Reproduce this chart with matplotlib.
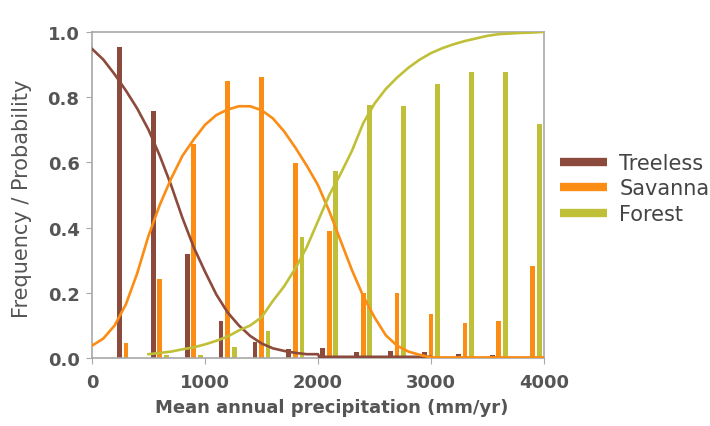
import matplotlib
matplotlib.use("Agg")
import matplotlib.pyplot as plt
from matplotlib.lines import Line2D

# histogram bins (mm/yr) and frequencies
bin_centers = [300, 600, 900, 1200, 1500, 1800, 2100, 2400, 2700, 3000, 3300, 3600, 3900]
treeless_freq = [0.953, 0.757, 0.319, 0.114, 0.05, 0.028, 0.031, 0.018, 0.022, 0.02, 0.012, 0.008, 0.0]
savanna_freq = [0.046, 0.242, 0.656, 0.848, 0.863, 0.598, 0.39, 0.2, 0.2, 0.135, 0.107, 0.114, 0.283]
forest_freq = [0.0, 0.008, 0.01, 0.034, 0.084, 0.37, 0.575, 0.776, 0.774, 0.84, 0.878, 0.878, 0.718]

# fitted probability curves
treeless_x = [0, 100, 200, 300, 400, 500, 600, 700, 800, 900, 1000, 1100, 1200, 1300,
              1400, 1500, 1600, 1700, 1800, 1900, 2000, 2010, 3000, 3010, 4000]
treeless_p = [0.948, 0.915, 0.87, 0.82, 0.765, 0.70, 0.62, 0.53, 0.43, 0.34, 0.265, 0.195,
              0.14, 0.10, 0.068, 0.045, 0.03, 0.022, 0.016, 0.012, 0.012, 0.004, 0.004, 0.0, 0.0]

savanna_x = [0, 100, 200, 300, 400, 500, 600, 700, 800, 900, 1000, 1100, 1200, 1300, 1400,
             1500, 1600, 1700, 1800, 1900, 2000, 2100, 2200, 2300, 2400, 2500, 2600, 2700,
             2800, 2900, 3000, 4000]
savanna_p = [0.038, 0.06, 0.10, 0.165, 0.26, 0.375, 0.47, 0.55, 0.62, 0.67, 0.715, 0.745,
             0.762, 0.772, 0.772, 0.76, 0.735, 0.695, 0.645, 0.59, 0.53, 0.45, 0.36, 0.27,
             0.19, 0.125, 0.07, 0.038, 0.02, 0.01, 0.002, 0.002]

forest_x = [500, 600, 700, 800, 900, 1000, 1100, 1200, 1300, 1400, 1500, 1600, 1700, 1800,
            1900, 2000, 2100, 2200, 2300, 2400, 2500, 2600, 2700, 2800, 2900, 3000, 3100,
            3200, 3300, 3400, 3500, 3600, 3700, 3800, 3900, 4000]
forest_p = [0.012, 0.016, 0.02, 0.027, 0.033, 0.042, 0.053, 0.066, 0.085, 0.10, 0.125, 0.175,
            0.22, 0.275, 0.34, 0.42, 0.50, 0.565, 0.635, 0.72, 0.78, 0.825, 0.86, 0.89, 0.915,
            0.935, 0.95, 0.962, 0.972, 0.98, 0.988, 0.993, 0.995, 0.997, 0.998, 1.0]

C_TREELESS = "#8c4a3c"
C_SAVANNA = "#fb8c14"
C_FOREST = "#c0c038"
GREY = "#555555"

fig = plt.figure(figsize=(7.1, 4.27), dpi=100)
ax = fig.add_axes([0.1296, 0.159, 0.6366, 0.764])

bar_w = 42
offset = 58
ax.bar([c - offset for c in bin_centers], treeless_freq, width=bar_w, color=C_TREELESS, zorder=2)
ax.bar(bin_centers, savanna_freq, width=bar_w, color=C_SAVANNA, zorder=2)
ax.bar([c + offset for c in bin_centers], forest_freq, width=bar_w, color=C_FOREST, zorder=2)

ax.plot(treeless_x, treeless_p, color=C_TREELESS, lw=1.9, zorder=3)
ax.plot(savanna_x, savanna_p, color=C_SAVANNA, lw=1.9, zorder=3)
ax.plot(forest_x, forest_p, color=C_FOREST, lw=1.9, zorder=3)

ax.set_xlim(0, 4000)
ax.set_ylim(0, 1.0)
ax.set_xticks([0, 1000, 2000, 3000, 4000])
ax.set_yticks([0.0, 0.2, 0.4, 0.6, 0.8, 1.0])
ax.set_yticklabels(["0.0", "0.2", "0.4", "0.6", "0.8", "1.0"])

for spine in ax.spines.values():
    spine.set_color("#a8a8a8")
    spine.set_linewidth(1.2)
ax.tick_params(length=4, color="#a8a8a8", labelcolor=GREY, labelsize=13, pad=5)
ax.tick_params(axis="x", pad=7)
for label in ax.get_xticklabels() + ax.get_yticklabels():
    label.set_fontweight("bold")

ax.set_xlabel("Mean annual precipitation (mm/yr)", fontsize=13, fontweight="bold", color=GREY)
ax.xaxis.set_label_coords(0.53, -0.123)
ax.set_ylabel("Frequency / Probability", fontsize=15, color=GREY)
ax.yaxis.set_label_coords(-0.133, 0.49)

handles = [Line2D([], [], color=c, lw=6, solid_capstyle="butt")
           for c in (C_TREELESS, C_SAVANNA, C_FOREST)]
leg = fig.legend(handles, ["Treeless", "Savanna", "Forest"], loc="upper left",
                 bbox_to_anchor=(560 / 710, 1 - 154 / 427), frameon=False, fontsize=15,
                 borderpad=0, borderaxespad=0, handlelength=2.25, handletextpad=0.6,
                 labelspacing=0.26)
for text in leg.get_texts():
    text.set_color("#444444")

fig.savefig("out.png", dpi=100)
